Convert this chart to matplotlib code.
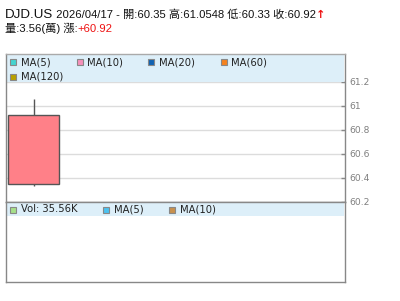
import matplotlib
matplotlib.use("Agg")
import matplotlib.pyplot as plt
from matplotlib.patches import Rectangle

# ---- data ----
symbol = "DJD.US"
date = "2026/04/17"
opens = [60.35]
highs = [61.0548]
lows = [60.33]
closes = [60.92]
high_label = "61.0548"
volume_wan = "3.56"
change = "+60.92"
vol_value = "35.56K"
price_ticks = [60.2, 60.4, 60.6, 60.8, 61.0, 61.2]
price_tick_labels = ["60.2", "60.4", "60.6", "60.8", "61", "61.2"]
ma_names = ["MA(5)", "MA(10)", "MA(20)", "MA(60)", "MA(120)"]
ma_colors = ["#44d4d0", "#f590ba", "#1062b2", "#f5821e", "#b8a100"]
vol_names = ["Vol: " + vol_value, "MA(5)", "MA(10)"]
vol_colors = ["#a6e08a", "#4cc2f0", "#c8914e"]

W, H = 400, 301
HEAD_FONTS = ["Liberation Sans", "Noto Sans CJK TC", "DejaVu Sans"]
SMALL_FONTS = ["DejaVu Sans"]
plt.rcParams["font.family"] = HEAD_FONTS

fig = plt.figure(figsize=(W / 100, H / 100), dpi=100)
fig.patch.set_facecolor("white")

def fx(px):
    return px / W

def fy(py):
    return 1 - py / H

GRAY = "#888888"
BAND = "#ddeff9"

# ---- main price axes ----
L, R = 5.5, 345.0
top_m, bot_m = 54.0, 201.7
ax = fig.add_axes([fx(L), fy(bot_m), (R - L) / W, (bot_m - top_m) / H])
px_per_unit = 120.0  # pixels per 1.0 price
ax.set_ylim(60.2, 60.2 + (bot_m - top_m) / px_per_unit)
slot = 63.0
cx = 33.5
ax.set_xlim(-(cx - L) / slot, (R - cx) / slot)
ax.set_axisbelow(True)
ax.yaxis.tick_right()
ax.set_yticks(price_ticks)
ax.set_yticklabels(price_tick_labels, family=SMALL_FONTS)
ax.set_xticks([])
ax.tick_params(axis="y", direction="in", length=3, width=1, color=GRAY,
               labelcolor="#7f7f7f", labelsize=6.6, pad=3)
ax.grid(axis="y", color="#dcdcdc", lw=1)
for s in ["left", "right", "top"]:
    ax.spines[s].set_color(GRAY)
    ax.spines[s].set_linewidth(1)
ax.spines["top"].set_color("#aaaaaa")
ax.spines["bottom"].set_color(GRAY)
ax.spines["bottom"].set_linewidth(1)

band_lo = (bot_m - 82.0) / (bot_m - top_m)
ax.add_patch(Rectangle((0, band_lo), 0.997, 1 - band_lo, transform=ax.transAxes,
                       facecolor=BAND, edgecolor="none", zorder=1))

xs = list(range(len(opens)))
ax.vlines(xs, lows, highs, color="#555555", lw=1, zorder=2)
ax.bar(xs, [c - o for o, c in zip(opens, closes)], bottom=opens, width=0.8,
       color="#ff8088", edgecolor="#555555", lw=1, zorder=3)

# ---- volume axes ----
top_v, bot_v = 201.7, 281.7
axv = fig.add_axes([fx(L), fy(bot_v), (R - L) / W, (bot_v - top_v) / H])
axv.set_xticks([])
axv.set_yticks([])
for s in ["left", "right", "bottom", "top"]:
    axv.spines[s].set_color(GRAY)
    axv.spines[s].set_linewidth(1)
b0 = (bot_v - 215.7) / (bot_v - top_v)
b1 = (bot_v - 203.3) / (bot_v - top_v)
axv.add_patch(Rectangle((0, b0), 0.997, b1 - b0, transform=axv.transAxes,
                        facecolor=BAND, edgecolor="none", zorder=1))

# ---- legends ----
def legend_item(x_sq, yc, color, label):
    fig.add_artist(Rectangle((fx(x_sq), fy(yc + 3)), 6 / W, 6 / H,
                             transform=fig.transFigure, facecolor=color,
                             edgecolor=GRAY, lw=0.8, zorder=10))
    fig.text(fx(x_sq + 10.7), fy(yc), label, fontsize=7.2, color="#222222",
             va="center", ha="left", zorder=10, family=SMALL_FONTS)

main_pos = [(10, 62.3), (76.7, 62.3), (148.3, 62.3), (220.7, 62.3), (10, 76.7)]
for (x, y), c, n in zip(main_pos, ma_colors, ma_names):
    legend_item(x, y, c, n)

vol_pos = [(10.3, 209.5), (103.3, 209.5), (169.3, 209.5)]
for (x, y), c, n in zip(vol_pos, vol_colors, vol_names):
    legend_item(x, y, c, n)

# ---- header ----
renderer = fig.canvas.get_renderer()

def seq_text(x, y, parts):
    for txt, size, color, fam, wt in parts:
        t = fig.text(fx(x), fy(y), txt, fontsize=size, color=color,
                     va="baseline", ha="left", family=fam, weight=wt)
        bb = t.get_window_extent(renderer=renderer)
        x += bb.width

line1 = [
    (symbol, 9.6, "#111111", HEAD_FONTS, "normal"),
    (" " + date + " - 開:" + f"{opens[0]:.2f}" + " 高:" + high_label +
     " 低:" + f"{lows[0]:.2f}" + " 收:" + f"{closes[0]:.2f}", 8.1, "#111111",
     HEAD_FONTS, "normal"),
    ("↑", 8.1, "#ee1111", ["DejaVu Sans"], "bold"),
]
seq_text(5, 17.8, line1)
line2 = [
    ("量:" + volume_wan + "(萬) 漲:", 8.1, "#111111", HEAD_FONTS, "normal"),
    (change, 8.1, "#ee1111", HEAD_FONTS, "normal"),
]
seq_text(5, 31.5, line2)

fig.savefig("out.png", dpi=100)
